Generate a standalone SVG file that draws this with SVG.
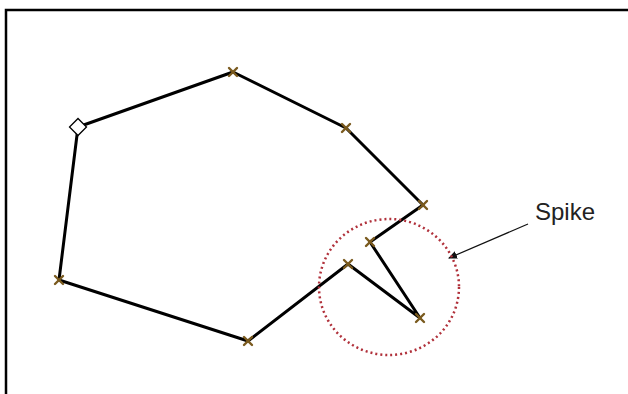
<svg xmlns="http://www.w3.org/2000/svg" width="628" height="394" viewBox="0 0 628 394">
<style>
.edge{stroke:#000;stroke-width:3;fill:none;stroke-linejoin:round;stroke-linecap:round}
.vx{stroke:#7a5a1e;stroke-width:2.4;stroke-linecap:round}
.lbl{font-family:"Liberation Sans",Arial,sans-serif;font-size:24px;fill:#222}
</style>
<defs>
<g id="x"><line class="vx" x1="-4" y1="-4" x2="4" y2="4"/><line class="vx" x1="-4" y1="4" x2="4" y2="-4"/></g>
<marker id="ah" markerWidth="9" markerHeight="8" refX="8" refY="4" orient="auto" markerUnits="userSpaceOnUse"><path d="M0,0 L9,4 L0,8 z" fill="#111"/></marker>
</defs>
<rect x="0" y="0" width="628" height="394" fill="#fff"/>
<rect x="6" y="10" width="630" height="400" fill="none" stroke="#000" stroke-width="2.5"/>
<g id="connectors">
<polyline class="edge" points="78,127 233,72 346,128 423,205 370,242 420,318 348,264 248,341 59,280 78,127"/>
<line x1="528" y1="224" x2="449" y2="258" stroke="#111" stroke-width="1.2" marker-end="url(#ah)"/>
</g>
<g id="spike-circle"><ellipse cx="389" cy="287" rx="70" ry="68" fill="none" stroke="#b0303a" stroke-width="2.5" stroke-dasharray="2,3"/></g>
<g id="n0"><rect x="-6" y="-6" width="12" height="12" transform="translate(78,127) rotate(45)" fill="#fff" stroke="#000" stroke-width="1.3"/></g>
<g id="n1"><use href="#x" x="233" y="72"/></g>
<g id="n2"><use href="#x" x="346" y="128"/></g>
<g id="n3"><use href="#x" x="423" y="205"/></g>
<g id="n4"><use href="#x" x="370" y="242"/></g>
<g id="n5"><use href="#x" x="420" y="318"/></g>
<g id="n6"><use href="#x" x="348" y="264"/></g>
<g id="n7"><use href="#x" x="248" y="341"/></g>
<g id="n8"><use href="#x" x="59" y="280"/></g>
<g id="label"><text class="lbl" x="535" y="220">Spike</text></g>
</svg>
